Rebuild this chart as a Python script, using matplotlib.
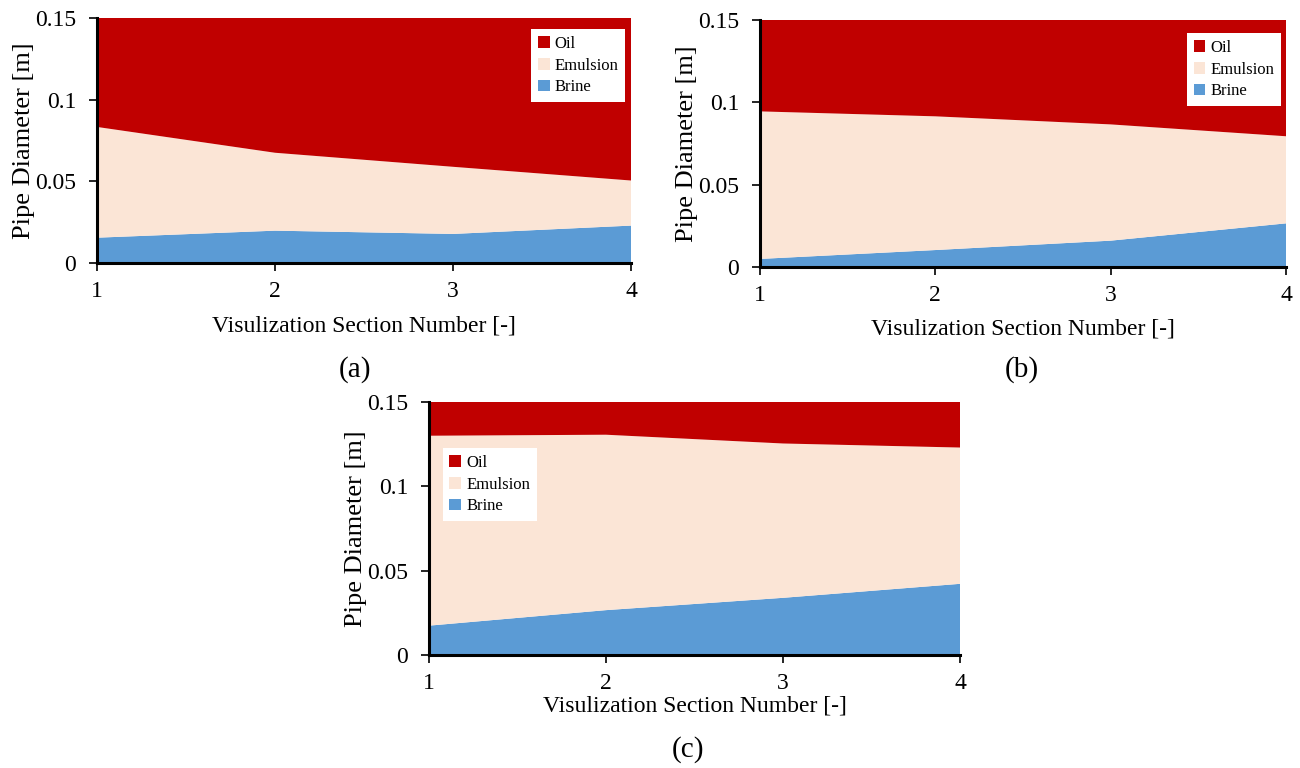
import matplotlib.pyplot as plt
from matplotlib.patches import Patch

plt.rcParams['font.family'] = ['Liberation Serif', 'DejaVu Serif']

#------Datos----------
secciones = [1, 2, 3, 4]
etiquetas_y = ['0', '0.05', '0.1', '0.15']
ticks_y = [0, 0.05, 0.1, 0.15]

# espesores de cada fase [m] (apilados: salmuera, emulsion, aceite)
brine_a = [0.0155, 0.0198, 0.0178, 0.0229]
emul_a = [0.0678, 0.0477, 0.0411, 0.0276]
oil_a = [0.0667, 0.0825, 0.0911, 0.0995]

brine_b = [0.0049, 0.0103, 0.0160, 0.0265]
emul_b = [0.0896, 0.0812, 0.0706, 0.0529]
oil_b = [0.0555, 0.0585, 0.0634, 0.0706]

brine_c = [0.0174, 0.0266, 0.0339, 0.0422]
emul_c = [0.1126, 0.1040, 0.0915, 0.0808]
oil_c = [0.0200, 0.0194, 0.0246, 0.0270]

nombres = ['Oil', 'Emulsion', 'Brine']
colores = {'Oil': '#C00000', 'Emulsion': '#FBE5D6', 'Brine': '#5B9BD5'}

fig = plt.figure(figsize=(13, 7.68), dpi=100)
W, H = 1300, 768


def caja(l, t, r, b):
    return [l / W, 1 - b / H, (r - l) / W, (b - t) / H]


def panel(rect, brine, emul, oil, leg_loc, leg_anchor, xpad):
    ax = fig.add_axes(rect)
    ax.stackplot(secciones, brine, emul, oil,
                 colors=[colores['Brine'], colores['Emulsion'], colores['Oil']],
                 linewidth=0)
    ax.set_xlim(1, 4)
    ax.set_ylim(0, 0.15)
    ax.set_xticks(secciones)
    ax.set_yticks(ticks_y)
    ax.set_yticklabels(etiquetas_y)
    for s in ['top', 'right']:
        ax.spines[s].set_visible(False)
    for s in ['left', 'bottom']:
        ax.spines[s].set_linewidth(2.2)
        ax.spines[s].set_zorder(5)
    ax.tick_params(axis='both', direction='out', length=6, width=1.2, labelsize=17)
    ax.tick_params(axis='x', pad=7)
    ax.tick_params(axis='y', pad=9)
    ax.set_xlabel('Visulization Section Number [-]', fontsize=17, labelpad=xpad)
    ax.set_ylabel('Pipe Diameter [m]', fontsize=19, labelpad=0)
    handles = [Patch(facecolor=colores[n], edgecolor='none', label=n) for n in nombres]
    leg = ax.legend(handles=handles, loc=leg_loc, bbox_to_anchor=leg_anchor,
                    fontsize=12, frameon=True, fancybox=False, framealpha=1,
                    edgecolor='white', handlelength=0.7, handleheight=0.7,
                    handletextpad=0.3, labelspacing=0.35, borderpad=0.4,
                    borderaxespad=0)
    leg.get_frame().set_linewidth(0)
    return ax


panel(caja(97, 18, 631, 263), brine_a, emul_a, oil_a,
      'upper right', (0.989, 0.955), 10)
panel(caja(760, 20, 1286, 267), brine_b, emul_b, oil_b,
      'upper right', (0.990, 0.947), 9)
panel(caja(429, 402, 960, 655), brine_c, emul_c, oil_c,
      'upper left', (0.026, 0.818), 1)

fig.text(355 / W, 1 - 370 / H, '(a)', fontsize=21, ha='center', va='center')
fig.text(1022 / W, 1 - 370 / H, '(b)', fontsize=21, ha='center', va='center')
fig.text(688 / W, 1 - 750 / H, '(c)', fontsize=21, ha='center', va='center')

plt.savefig('out.png', dpi=100)
